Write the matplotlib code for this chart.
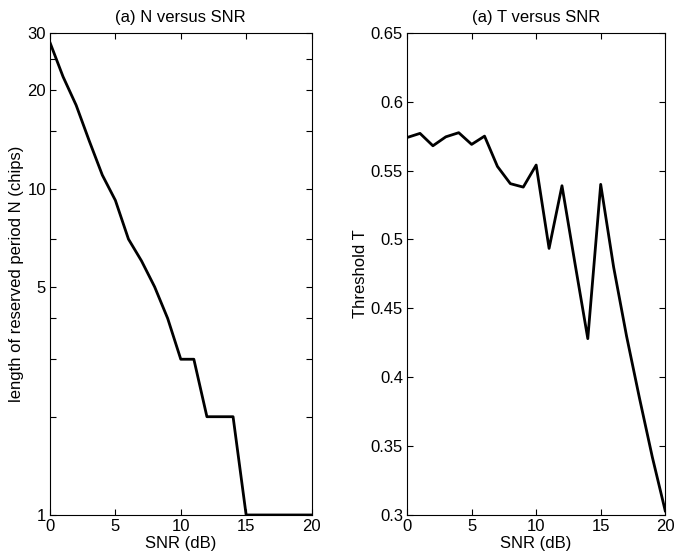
import matplotlib.pyplot as plt
import numpy as np
from matplotlib.ticker import FixedLocator, FixedFormatter, FormatStrFormatter, NullLocator

plt.rcParams['font.family'] = ['Liberation Sans', 'DejaVu Sans']

snr = np.arange(0, 21)
n_chips = [28, 22, 18, 14, 11, 9.2, 7, 6, 5, 4, 3, 3, 2, 2, 2, 1, 1, 1, 1, 1, 1]
threshold = [0.574, 0.577, 0.568, 0.5745, 0.5775, 0.569, 0.575, 0.553, 0.5405,
             0.538, 0.554, 0.4935, 0.539, 0.483, 0.428, 0.540, 0.480, 0.430,
             0.385, 0.342, 0.303]

n_ticks = [1, 2, 3, 4, 5, 7, 10, 15, 20, 25, 30]
n_labels = ['1', '', '', '', '5', '', '10', '', '20', '', '30']


def style_axes(ax):
    ax.tick_params(direction='in', length=4, width=0.8, top=True, right=True,
                   labelsize=12, pad=3)
    for s in ax.spines.values():
        s.set_linewidth(0.8)
    ax.set_xlim(0, 20)
    ax.set_xticks([0, 5, 10, 15, 20])
    ax.set_xlabel('SNR (dB)', fontsize=12, labelpad=1)


fig = plt.figure(figsize=(6.74, 5.6), dpi=100)
ax1 = fig.add_axes([0.0742, 0.0804, 0.388, 0.861])
ax2 = fig.add_axes([0.604, 0.0804, 0.383, 0.861])

ax1.plot(snr, n_chips, color='black', linewidth=2.0)
ax1.set_yscale('log')
ax1.set_ylim(1, 30)
ax1.yaxis.set_major_locator(FixedLocator(n_ticks))
ax1.yaxis.set_major_formatter(FixedFormatter(n_labels))
ax1.yaxis.set_minor_locator(NullLocator())
style_axes(ax1)
ax1.set_ylabel('length of reserved period N (chips)', fontsize=12, labelpad=2)
ax1.set_title('(a) N versus SNR', fontsize=12, pad=8)

ax2.plot(snr, threshold, color='black', linewidth=2.0)
ax2.set_ylim(0.3, 0.65)
ax2.set_yticks(np.arange(0.3, 0.651, 0.05))
ax2.yaxis.set_major_formatter(FormatStrFormatter('%g'))
style_axes(ax2)
ax2.set_ylabel('Threshold T', fontsize=12, labelpad=2)
ax2.set_title('(a) T versus SNR', fontsize=12, pad=8)

fig.savefig('out.png', dpi=100)
